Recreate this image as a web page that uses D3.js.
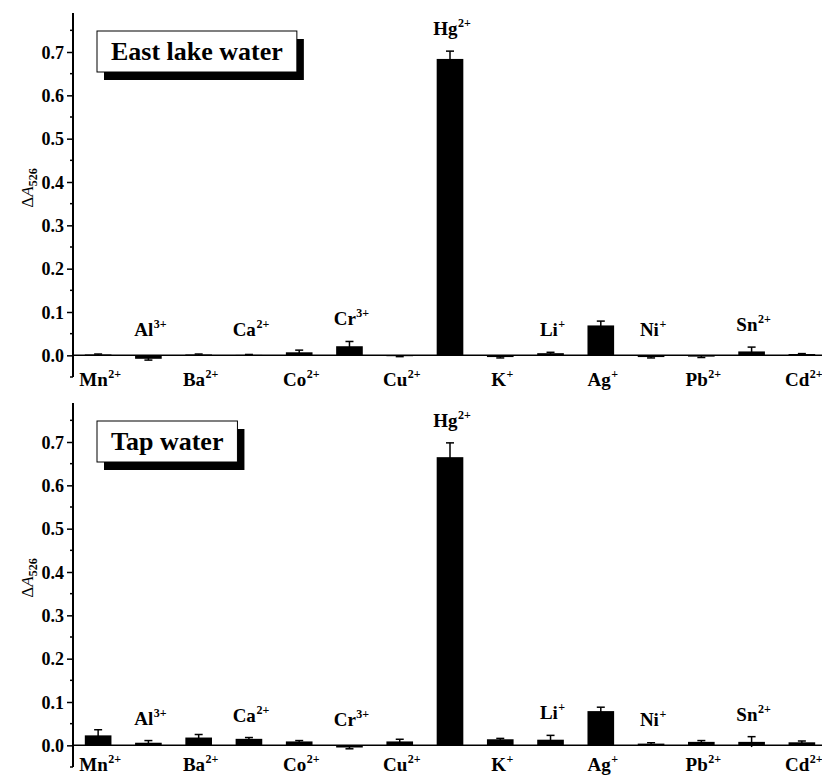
<!DOCTYPE html>
<html>
<head>
<meta charset="utf-8">
<script src="https://cdn.jsdelivr.net/npm/d3@7"></script>
<style>
  body { margin: 0; background: #fff; }
  svg text { font-family: "Liberation Serif", "Times New Roman", Times, serif; }
</style>
</head>
<body>
<div id="chart"></div>
<script>
// Ion names and their charges (superscripts)
const ions    = ["Mn", "Al", "Ba", "Ca", "Co", "Cr", "Cu", "Hg", "K", "Li", "Ag", "Ni", "Pb", "Sn", "Cd"];
const charges = ["2+", "3+", "2+", "2+", "2+", "3+", "2+", "2+", "+", "+", "+", "+", "2+", "2+", "2+"];

// Panel titles
const panelTitles = ["East lake water", "Tap water"];

// ΔA526 values and error bars, East lake water
const lakeValues = [0.002, -0.008, 0.002, 0.001, 0.007, 0.021, -0.002, 0.684, -0.004, 0.005, 0.069, -0.004, -0.003, 0.009, 0.003];
const lakeErrors = [0.001, 0.003, 0.001, 0.001, 0.005, 0.011, 0.001, 0.018, 0.002, 0.002, 0.010, 0.002, 0.002, 0.010, 0.001];

// ΔA526 values and error bars, Tap water
const tapValues = [0.023, 0.006, 0.018, 0.015, 0.009, -0.005, 0.009, 0.665, 0.014, 0.013, 0.079, 0.004, 0.008, 0.008, 0.007];
const tapErrors = [0.013, 0.005, 0.007, 0.003, 0.002, 0.003, 0.005, 0.033, 0.002, 0.010, 0.009, 0.002, 0.003, 0.012, 0.003];

// Axis ticks
const majorTicks = [0, 0.1, 0.2, 0.3, 0.4, 0.5, 0.6, 0.7];
const minorTicks = [-0.05, 0.05, 0.15, 0.25, 0.35, 0.45, 0.55, 0.65, 0.75];

const width = 822, height = 776;
const svg = d3.select('#chart').append('svg')
    .attr('width', width)
    .attr('height', height);

const x = d3.scaleBand()
    .domain(ions)
    .range([73, 827])
    .paddingInner(0.47)
    .paddingOuter(0.235);

function drawPanel(values, errors, title, offsetY) {
    const g = svg.append('g').attr('transform', `translate(0,${offsetY})`);

    const y = d3.scaleLinear()
        .domain([-0.05, 0.79])
        .range([377, 13]);

    // Bars
    g.selectAll('rect.bar')
        .data(values)
        .join('rect')
        .attr('class', 'bar')
        .attr('x', (d, i) => x(ions[i]))
        .attr('width', x.bandwidth())
        .attr('y', d => y(Math.max(0, d)))
        .attr('height', d => Math.abs(y(d) - y(0)))
        .attr('fill', '#000');

    // Error bars (cap on the outward side only)
    values.forEach((v, i) => {
        const cx = x(ions[i]) + x.bandwidth() / 2;
        const e = errors[i];
        const end = v >= 0 ? v + e : v - e;
        g.append('line')
            .attr('x1', cx).attr('x2', cx)
            .attr('y1', y(v - e)).attr('y2', y(v + e))
            .attr('stroke', '#000').attr('stroke-width', 1.5);
        g.append('line')
            .attr('x1', cx - 4).attr('x2', cx + 4)
            .attr('y1', y(end)).attr('y2', y(end))
            .attr('stroke', '#000').attr('stroke-width', 1.5);
    });

    // Zero line (x axis)
    g.append('line')
        .attr('x1', 73).attr('x2', width)
        .attr('y1', y(0)).attr('y2', y(0))
        .attr('stroke', '#000').attr('stroke-width', 1.5);

    // Y axis
    const yAxis = d3.axisLeft(y)
        .tickValues(majorTicks)
        .tickSize(6)
        .tickFormat(d3.format('.1f'));
    const ax = g.append('g')
        .attr('transform', 'translate(73,0)')
        .call(yAxis);
    ax.select('.domain').remove();
    ax.selectAll('line').attr('stroke-width', 1.5);
    ax.selectAll('text')
        .attr('font-size', 18)
        .attr('font-weight', 'bold')
        .attr('x', -9)
        .attr('dy', '0.34em');

    g.selectAll('line.minor')
        .data(minorTicks)
        .join('line')
        .attr('class', 'minor')
        .attr('x1', 70).attr('x2', 73)
        .attr('y1', d => y(d)).attr('y2', d => y(d))
        .attr('stroke', '#000').attr('stroke-width', 1.5);

    g.append('line')
        .attr('x1', 73).attr('x2', 73)
        .attr('y1', y.range()[1]).attr('y2', y.range()[0])
        .attr('stroke', '#000').attr('stroke-width', 2);

    // Y label: ΔA526
    const yl = g.append('text')
        .attr('transform', `translate(33,188) rotate(-90)`)
        .attr('text-anchor', 'middle')
        .attr('font-size', 17);
    yl.append('tspan').text('Δ');
    yl.append('tspan').attr('font-style', 'italic').text('A');
    yl.append('tspan').attr('font-size', 12).attr('font-weight', 'bold').attr('dy', 4).text('526');

    // Category labels with superscript charges, alternating below / above the axis
    const belowY = Math.min(y(0) + 31, height - offsetY - 5);
    values.forEach((v, i) => {
        const cx = x(ions[i]) + x.bandwidth() / 2 + 2;
        let ty;
        if (i % 2 === 0) {
            ty = belowY;
        } else {
            ty = Math.min(y(0.045), y(v + errors[i]) - 16);
        }
        const t = g.append('text')
            .attr('x', cx).attr('y', ty)
            .attr('text-anchor', 'middle')
            .attr('font-weight', 'bold');
        t.append('tspan').attr('font-size', 19).text(ions[i]);
        t.append('tspan').attr('font-size', 12).attr('dx', 0.5).attr('dy', -8).text(charges[i]);
    });

    // Title box with drop shadow
    const bx = 97, by = 31, bh = 41;
    const shadow = g.append('rect').attr('fill', '#000');
    const box = g.append('rect')
        .attr('fill', '#fff').attr('stroke', '#000').attr('stroke-width', 1);
    const label = g.append('text')
        .attr('font-size', 26)
        .attr('font-weight', 'bold')
        .attr('text-anchor', 'middle')
        .text(title);
    const bw = label.node().getComputedTextLength() + 28;
    shadow.attr('x', bx + 7).attr('y', by + 8).attr('width', bw).attr('height', bh);
    box.attr('x', bx).attr('y', by).attr('width', bw).attr('height', bh);
    label.attr('x', bx + bw / 2).attr('y', by + 29);
}

drawPanel(lakeValues, lakeErrors, panelTitles[0], 0);
drawPanel(tapValues, tapErrors, panelTitles[1], 390);
</script>
</body>
</html>
